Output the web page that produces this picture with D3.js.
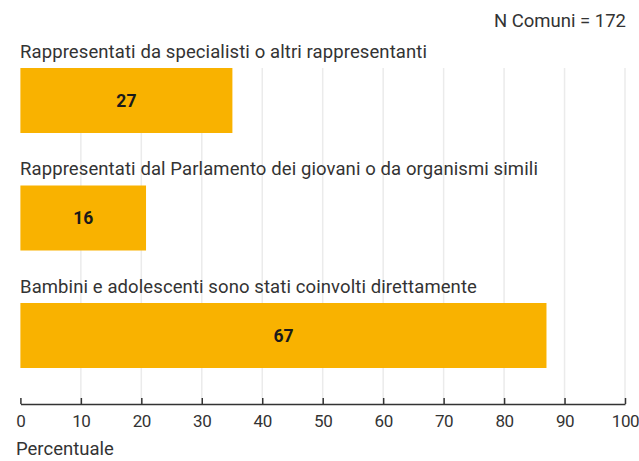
<!DOCTYPE html>
<html>
<head>
<meta charset="utf-8">
<script src="https://cdn.jsdelivr.net/npm/d3@7"></script>
<style>
  html, body { margin: 0; padding: 0; background: #fff; }
  svg { display: block; font-family: Roboto, "Noto Sans", sans-serif; }
</style>
</head>
<body>
<svg id="chart" width="639" height="461"></svg>
<script>
// Forms of participation of children and adolescents (counts of municipalities)
const categories = [
  "Rappresentati da specialisti o altri rappresentanti",
  "Rappresentati dal Parlamento dei giovani o da organismi simili",
  "Bambini e adolescenti sono stati coinvolti direttamente"
];
const counts = [27, 16, 67];
// Municipalities answering this question (base for the percentages)
const respondents = 77;
const xTicks = [0, 10, 20, 30, 40, 50, 60, 70, 80, 90, 100];
const note = "N Comuni = 172";
const axisTitle = "Percentuale";

const svg = d3.select("#chart");
const barColor = "#F9B200";
const textColor = "#333333";
const fontSize = 18.5;

const x = d3.scaleLinear().domain([0, 100]).range([20.4, 625]);
const y = d3.scaleBand().domain(categories).range([68, 368]).paddingInner(0.4468).paddingOuter(0);
const axisY = 404;

const rows = categories.map((c, i) => ({ cat: c, count: counts[i], pct: counts[i] / respondents * 100 }));

// vertical gridlines
svg.append("g")
  .selectAll("line")
  .data(xTicks.slice(1))
  .join("line")
  .attr("x1", d => x(d)).attr("x2", d => x(d))
  .attr("y1", y.range()[0]).attr("y2", axisY)
  .attr("stroke", "#ebebeb")
  .attr("stroke-width", 1.5);

// bars
svg.append("g")
  .selectAll("rect")
  .data(rows)
  .join("rect")
  .attr("x", x(0))
  .attr("y", d => y(d.cat))
  .attr("width", d => x(d.pct) - x(0))
  .attr("height", y.bandwidth())
  .attr("fill", barColor);

// category labels above each bar
svg.append("g")
  .selectAll("text")
  .data(rows)
  .join("text")
  .attr("x", 20)
  .attr("y", d => y(d.cat) - 10)
  .attr("fill", textColor)
  .attr("font-size", fontSize)
  .attr("letter-spacing", 0.1)
  .text(d => d.cat);

// counts in the bars
svg.append("g")
  .selectAll("text")
  .data(rows)
  .join("text")
  .attr("x", d => (x(0) + x(d.pct)) / 2)
  .attr("y", d => y(d.cat) + y.bandwidth() / 2)
  .attr("dy", "0.36em")
  .attr("text-anchor", "middle")
  .attr("font-weight", "bold")
  .attr("font-size", 17.5)
  .attr("fill", "#1a1a1a")
  .text(d => d.count);

// x axis
const axis = svg.append("g")
  .attr("transform", `translate(0,${axisY})`)
  .call(d3.axisBottom(x).tickValues(xTicks).tickSizeInner(-6).tickSizeOuter(0).tickPadding(11));
axis.select(".domain").attr("stroke", "#333").attr("stroke-width", 1.5);
axis.selectAll(".tick line").attr("stroke", "#333").attr("stroke-width", 1.5);
axis.selectAll(".tick text")
  .attr("font-size", 17)
  .attr("letter-spacing", -0.4)
  .attr("font-family", "Roboto, 'Noto Sans', sans-serif")
  .attr("fill", textColor);

// axis title
svg.append("text")
  .attr("x", 16)
  .attr("y", 455)
  .attr("font-size", fontSize)
  .attr("fill", textColor)
  .text(axisTitle);

// sample size note
svg.append("text")
  .attr("x", 626)
  .attr("y", 27)
  .attr("text-anchor", "end")
  .attr("font-size", fontSize)
  .attr("fill", textColor)
  .text(note);
</script>
</body>
</html>
